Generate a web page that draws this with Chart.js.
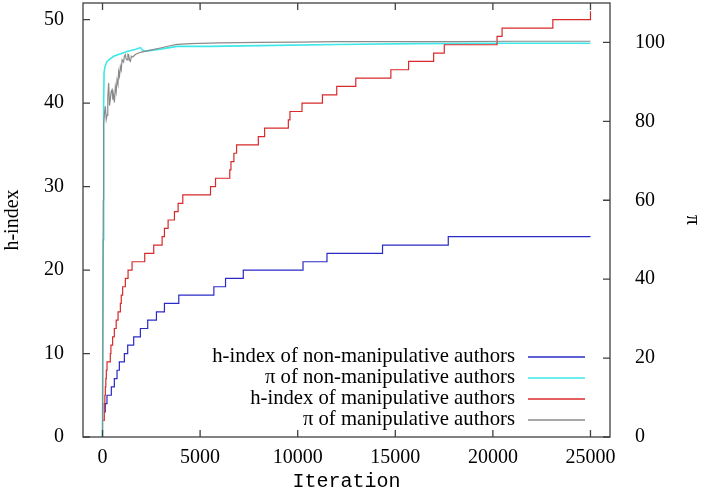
<!DOCTYPE html>
<html><head><meta charset="utf-8">
<script src="https://cdn.jsdelivr.net/npm/chart.js@4.4.1/dist/chart.umd.min.js"></script>
<style>html,body{margin:0;padding:0;background:#fff}#wrap{width:705px;height:498px}</style>
</head><body><div id="wrap"><canvas id="c" width="705" height="498"></canvas></div>
<script>
// ---- data ----
const iterTicks = [0, 5000, 10000, 15000, 20000, 25000];
const hTicks = [0, 10, 20, 30, 40, 50];
const piTicks = [0, 20, 40, 60, 80, 100];

const labels = [
  "h-index of non-manipulative authors",
  "\u03c0 of non-manipulative authors",
  "h-index of manipulative authors",
  "\u03c0 of manipulative authors"
];

// h-index of non-manipulative authors (value becomes y at iteration x)
const blueIter = [90, 140, 229, 452, 606, 743, 862, 1119, 1290, 1597, 1940, 2316, 2762, 3172, 3907, 5704, 6303, 7212, 10273, 11500, 14346, 17714, 25000];
const blueH    = [3, 4, 5, 6, 7, 8, 9, 10, 11, 12, 13, 14, 15, 16, 17, 18, 19, 20, 21, 22, 23, 24, 24];

// pi of non-manipulative authors
const cyanIter = [0, 30, 60, 80, 130, 230, 570, 1250, 1700, 1940, 2027, 2200, 2970, 3820, 5500, 8000, 12000, 16000, 20000, 25000];
const cyanPi   = [0, 50, 85, 92.5, 93.9, 95.2, 96.5, 97.7, 98.3, 98.7, 98.1, 97.8, 98.3, 99, 99, 99.2, 99.5, 99.7, 99.8, 99.8];

// h-index of manipulative authors
const redIter = [40, 90, 120, 145, 170, 195, 231, 400, 430, 518, 606, 700, 796, 914, 960, 1032, 1170, 1309, 1514, 2162, 2625, 3053, 3172, 3360, 3685, 3873, 4113, 5533, 5790, 6520, 6580, 6731, 6868, 7982, 8305, 9520, 9604, 10220, 11267, 12000, 12976, 14773, 15680, 16964, 17509, 20213, 20470, 23072, 25000];
const redH    = [2, 4, 5, 6, 7, 8, 9, 10, 11, 12, 13, 14, 15, 16, 17, 18, 19, 20, 21, 22, 23, 24, 25, 26, 27, 28, 29, 30, 31, 32, 33, 34, 35, 36, 37, 38, 39, 40, 41, 42, 43, 44, 45, 46, 47, 48, 49, 50, 51];

// pi of manipulative authors
const grayIter = [0, 40, 56, 100, 144, 190, 231, 270, 313, 360, 400, 440, 488, 530, 570, 610, 657, 700, 744, 790, 826, 870, 914, 960, 1001, 1080, 1120, 1170, 1210, 1258, 1300, 1340, 1380, 1427, 1480, 1550, 1700, 1940, 2400, 2967, 3400, 3824, 4500, 6000, 8000, 10000, 12000, 15000, 18000, 21000, 25000];
const grayPi   = [0, 60, 79.5, 82, 83.8, 80.5, 81.6, 86, 89.7, 84, 85.5, 87.5, 88, 85.5, 86.5, 84.8, 88.8, 87.5, 90.5, 89.5, 92.6, 91.5, 93.9, 93, 95.6, 95, 96.5, 96.9, 95.8, 95.6, 97, 96.9, 95.5, 95.2, 96.5, 96.3, 97, 97.5, 98, 98.6, 99.1, 99.5, 99.7, 99.9, 100, 100.1, 100.2, 100.2, 100.2, 100.3, 100.3];

const colors = ['#2a2ac8', '#3ee8e8', '#d82a2a', '#8a8a8a'];

const pts = (xs, ys) => xs.map((x, i) => ({x: x, y: ys[i]}));

const serif = "'Liberation Serif', 'Times New Roman', serif";

const framePlugin = {
  id: 'frame',
  afterDatasetsDraw(chart) {
    const {ctx, chartArea: a, scales} = chart;
    ctx.save();
    ctx.strokeStyle = '#404040';
    ctx.lineWidth = 1.3;
    ctx.strokeRect(a.left, a.top, a.right - a.left, a.bottom - a.top);
    const L = 7;
    ctx.beginPath();
    iterTicks.forEach(v => {
      const x = scales.x.getPixelForValue(v);
      ctx.moveTo(x, a.bottom); ctx.lineTo(x, a.bottom - L);
      ctx.moveTo(x, a.top); ctx.lineTo(x, a.top + L);
    });
    hTicks.forEach(v => {
      const y = scales.y.getPixelForValue(v);
      ctx.moveTo(a.left, y); ctx.lineTo(a.left + L, y);
    });
    piTicks.forEach(v => {
      const y = scales.y2.getPixelForValue(v);
      ctx.moveTo(a.right, y); ctx.lineTo(a.right - L, y);
    });
    ctx.stroke();
    // key
    ctx.font = '20.7px ' + serif;
    ctx.textAlign = 'right';
    ctx.textBaseline = 'middle';
    chart.data.datasets.forEach((ds, i) => {
      const y = 357 + 21 * i;
      ctx.fillStyle = '#000';
      ctx.fillText(ds.label, 515, y);
      ctx.strokeStyle = ds.borderColor;
      ctx.lineWidth = 1.3;
      ctx.beginPath(); ctx.moveTo(528, y); ctx.lineTo(585, y); ctx.stroke();
    });
    ctx.restore();
  }
};

const zeroPad = s => { s.paddingLeft = 0; s.paddingRight = 0; s.paddingTop = 0; s.paddingBottom = 0; };
const plain = v => String(v);

new Chart(document.getElementById('c'), {
  type: 'line',
  data: {
    datasets: [
      {label: labels[0], data: pts(blueIter, blueH), yAxisID: 'y', borderColor: colors[0], stepped: true, order: 4},
      {label: labels[1], data: pts(cyanIter, cyanPi), yAxisID: 'y2', borderColor: colors[1], order: 3, borderWidth: 1.6},
      {label: labels[2], data: pts(redIter, redH), yAxisID: 'y', borderColor: colors[2], stepped: true, order: 2},
      {label: labels[3], data: pts(grayIter, grayPi), yAxisID: 'y2', borderColor: colors[3], order: 1}
    ]
  },
  options: {
    responsive: false,
    animation: false,
    devicePixelRatio: 1,
    layout: {padding: {top: 3, left: 0, right: 0, bottom: 0}},
    elements: {
      point: {radius: 0},
      line: {borderWidth: 1.2, tension: 0, fill: false}
    },
    plugins: {legend: {display: false}, tooltip: {enabled: false}},
    scales: {
      x: {
        type: 'linear', position: 'bottom', min: -1000, max: 26000,
        grid: {display: false}, border: {display: false},
        afterBuildTicks: s => { s.ticks = iterTicks.map(v => ({value: v})); },
        afterFit: s => { s.height = 61; zeroPad(s); },
        ticks: {font: {family: serif, size: 20}, color: '#000', padding: 1, maxRotation: 0, autoSkip: false, callback: plain},
        title: {display: true, text: 'Iteration', font: {family: "'Liberation Mono', 'Courier New', monospace", size: 20}, color: '#000', padding: {top: 0, bottom: 4}}
      },
      y: {
        type: 'linear', position: 'left', min: 0, max: 52,
        grid: {display: false}, border: {display: false},
        afterBuildTicks: s => { s.ticks = hTicks.map(v => ({value: v})); },
        afterFit: s => { s.width = 83; zeroPad(s); },
        ticks: {font: {family: serif, size: 20}, color: '#000', padding: 11, autoSkip: false, callback: plain},
        title: {display: true, text: 'h-index', font: {family: serif, size: 20}, color: '#000', padding: {top: 1, bottom: 0}}
      },
      y2: {
        type: 'linear', position: 'right', min: 0, max: 110,
        grid: {display: false}, border: {display: false},
        afterBuildTicks: s => { s.ticks = piTicks.map(v => ({value: v})); },
        afterFit: s => { s.width = 95; zeroPad(s); },
        ticks: {font: {family: serif, size: 20}, color: '#000', padding: 17, autoSkip: false, callback: plain},
        title: {display: true, text: '\u03c0', font: {family: serif, size: 20}, color: '#000', padding: {top: 1, bottom: 0}}
      }
    }
  },
  plugins: [framePlugin]
});
</script>
</body></html>
